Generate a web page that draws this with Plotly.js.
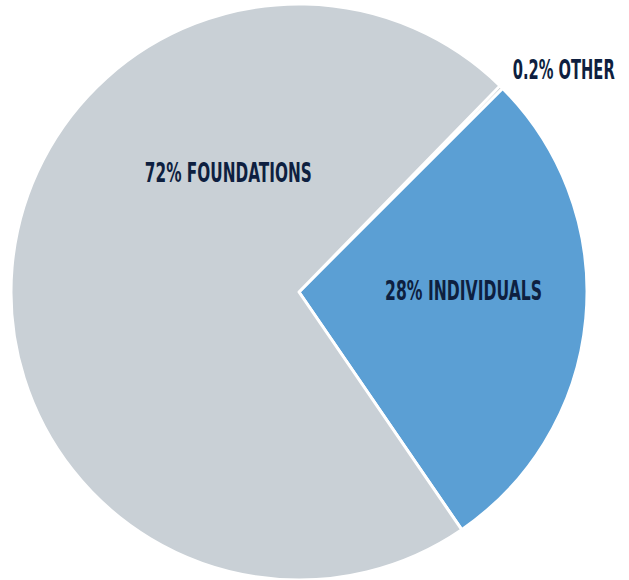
<!DOCTYPE html>
<html>
<head>
<meta charset="utf-8">
<script src="https://cdn.plot.ly/plotly-3.0.1.min.js"></script>
<style>html,body{margin:0;padding:0;background:#fff;}#chart{width:629px;height:580px;}</style>
</head>
<body>
<div id="chart"></div>
<script>
var labels = ["OTHER", "INDIVIDUALS", "FOUNDATIONS"];
var values = [0.2, 28, 72];
var colors = ["#6f7c84", "#5b9fd4", "#c9d0d6"];

// label placement (paper coords) and rendered text widths (px) to mimic a condensed face
var labelPos = [[0.8967, 0.8810], [0.7369, 0.4983], [0.3633, 0.7034]];
var labelWidths = [102, 157, 167];

var font = {family: '"DejaVu Sans", sans-serif', size: 27, color: "#0e1f40", weight: 700};

var annotations = labels.map(function (l, i) {
  return {
    xref: "paper", yref: "paper",
    x: labelPos[i][0], y: labelPos[i][1],
    text: values[i] + "% " + l,
    showarrow: false, font: font,
    xanchor: "center", yanchor: "middle"
  };
});

var trace = {
  type: "pie",
  labels: labels,
  values: values,
  sort: false,
  direction: "clockwise",
  rotation: 44.28,
  marker: {colors: colors, line: {color: "#ffffff", width: 3}},
  textinfo: "none",
  hoverinfo: "label+percent",
  domain: {x: [11/629, 587/629], y: [0, 576/580]}
};

Plotly.newPlot("chart", [trace], {
  width: 629, height: 580,
  margin: {l: 0, r: 0, t: 0, b: 0},
  showlegend: false,
  paper_bgcolor: "#ffffff",
  annotations: annotations
}, {displayModeBar: false, staticPlot: true}).then(function (gd) {
  var groups = gd.querySelectorAll("g.annotation");
  groups.forEach(function (g) {
    var idx = +g.getAttribute("data-index");
    var t = g.querySelector("text.annotation-text");
    if (!t || !labelWidths[idx]) return;
    var natural = t.getComputedTextLength();
    var s = labelWidths[idx] / natural;
    var cx = parseFloat(t.getAttribute("x")) || 0;
    t.setAttribute("transform",
      "translate(" + cx + ",0) scale(" + s + ",1) translate(" + (-cx) + ",0)");
  });
});
</script>
</body>
</html>
